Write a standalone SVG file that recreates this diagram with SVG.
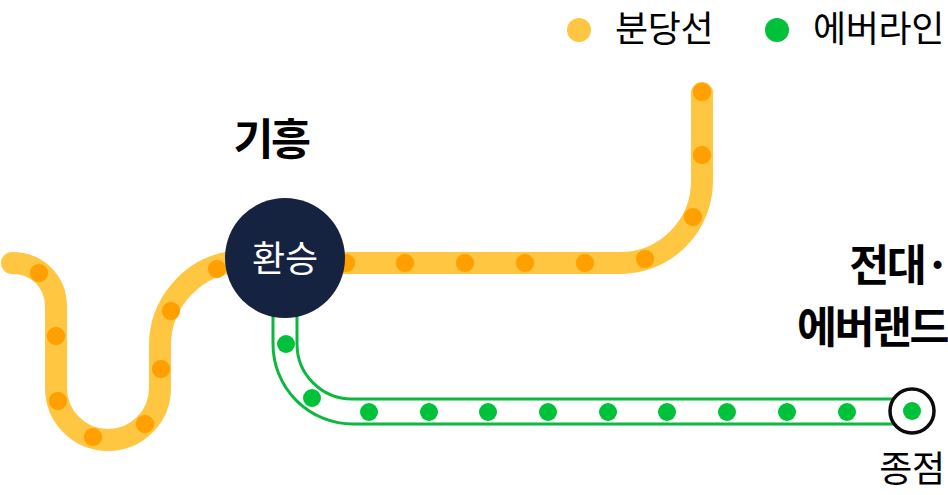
<svg xmlns="http://www.w3.org/2000/svg" width="948" height="495" viewBox="0 0 948 495">
<style>
.t{font-family:"Noto Sans CJK KR","Noto Sans",sans-serif;fill:#000}
.b{font-weight:700;font-size:43.5px;letter-spacing:-2.5px}
.r{font-size:36px;letter-spacing:-.4px}
.y{fill:none;stroke:#ffc641;stroke-width:22;stroke-linecap:round}
.g{fill:none;stroke:#0cb83e;stroke-width:3}
.o{fill:#ff9f00;stroke:#f99c05;stroke-opacity:.3}
.d{fill:#00c13a}
</style>
<g id="connectors">
<path class="y" d="M12 263C38 263 56 282 56 307V388A52 52 0 0 0 160 388V345C160 305 190 268 232 262"/>
<path class="y" d="M340 263H620A82 82 0 0 0 702 181V93"/>
<path class="g" d="M273 315V344A80 80 0 0 0 353 424H895"/>
<path class="g" d="M297 315V344A55 55 0 0 0 352 399H895"/>
</g>
<g id="stops-bundang">
<circle class="o" cx="39" cy="273" r="9"/><circle class="o" cx="56" cy="336" r="9"/><circle class="o" cx="58" cy="401" r="9"/><circle class="o" cx="93" cy="437" r="9"/><circle class="o" cx="145" cy="424" r="9"/><circle class="o" cx="161" cy="369" r="9"/><circle class="o" cx="171" cy="311" r="9"/><circle class="o" cx="217" cy="269" r="9"/>
<circle class="o" cx="346" cy="263" r="9"/><circle class="o" cx="405" cy="263" r="9"/><circle class="o" cx="465" cy="263" r="9"/><circle class="o" cx="525" cy="263" r="9"/><circle class="o" cx="585" cy="263" r="9"/><circle class="o" cx="645" cy="259" r="9"/><circle class="o" cx="693" cy="217" r="9"/><circle class="o" cx="702" cy="155" r="9"/><circle class="o" cx="702" cy="92" r="9"/>
</g>
<g id="stops-everline">
<circle class="d" cx="286" cy="344" r="9"/><circle class="d" cx="312" cy="398" r="9"/><circle class="d" cx="369" cy="412" r="9"/><circle class="d" cx="429" cy="412" r="9"/><circle class="d" cx="488" cy="412" r="9"/><circle class="d" cx="548" cy="412" r="9"/><circle class="d" cx="608" cy="412" r="9"/><circle class="d" cx="667" cy="412" r="9"/><circle class="d" cx="727" cy="412" r="9"/><circle class="d" cx="787" cy="412" r="9"/><circle class="d" cx="847" cy="412" r="9"/>
</g>
<g id="transfer">
<circle cx="285" cy="258" r="60" fill="#162340"/>
<text class="t" x="285" y="272" font-size="36" text-anchor="middle" style="fill:#fff">환승</text>
</g>
<g id="terminal">
<circle cx="912" cy="411" r="22" fill="#fff" stroke="#0b0b0b" stroke-width="3.5"/>
<circle class="d" cx="912" cy="411" r="9"/>
<text class="t r" x="912" y="482" text-anchor="middle">종점</text>
</g>
<g id="label-giheung"><text class="t b" x="271" y="155" text-anchor="middle">기흥</text></g>
<g id="label-jeondae">
<text class="t b" x="948" y="281" text-anchor="end" word-spacing="-7">전대 ·</text>
<text class="t b" x="947" y="343" text-anchor="end">에버랜드</text>
</g>
<g id="legend">
<circle cx="579" cy="30" r="12" fill="#ffc641"/>
<text class="t r" x="615" y="42">분당선</text>
<circle cx="777" cy="30" r="12" fill="#00c13a"/>
<text class="t r" x="813" y="42">에버라인</text>
</g>
</svg>
